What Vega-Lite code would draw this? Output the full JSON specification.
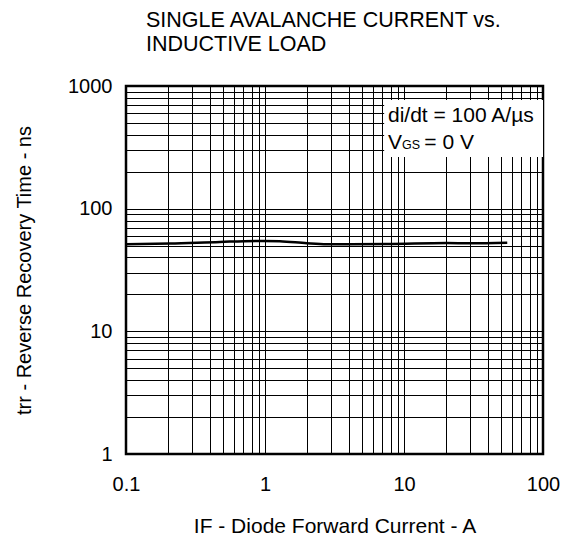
{
  "$schema": "https://vega.github.io/schema/vega-lite/v6.json",
  "width": 417,
  "height": 368,
  "autosize": "none",
  "padding": {"left": 126, "top": 86, "right": 28, "bottom": 84},
  "background": "white",
  "config": {
    "font": "Liberation Sans",
    "view": {"stroke": "black", "strokeWidth": 2.5}
  },
  "title": {
    "text": ["SINGLE AVALANCHE CURRENT vs.", "INDUCTIVE LOAD"],
    "anchor": "start",
    "frame": "group",
    "dx": 20,
    "fontSize": 21.5,
    "fontWeight": "normal",
    "font": "Liberation Sans",
    "lineHeight": 23.5,
    "offset": 21,
    "color": "black"
  },
  "datasets": {
    "curve": [
      {"current": 0.1, "trr": 51.3},
      {"current": 0.207, "trr": 51.9},
      {"current": 0.474, "trr": 53.6},
      {"current": 0.97, "trr": 54.6},
      {"current": 1.28, "trr": 54.3},
      {"current": 2.0, "trr": 52.2},
      {"current": 2.78, "trr": 51.3},
      {"current": 7.5, "trr": 51.5},
      {"current": 20.3, "trr": 52.5},
      {"current": 29.9, "trr": 52.2},
      {"current": 55.3, "trr": 52.8}
    ],
    "box": [{"x1": 7.2, "x2": 100, "y1": 264, "y2": 769}],
    "labels": [
      {"x": 7.67, "y": 510, "text": "di/dt = 100 A/µs", "size": 21},
      {"x": 7.67, "y": 305, "text": "V", "size": 21},
      {"x": 9.69, "y": 305, "text": "GS", "size": 12.5},
      {"x": 14.0, "y": 305, "text": "= 0 V", "size": 21}
    ]
  },
  "layer": [
    {
      "data": {"name": "curve"},
      "mark": {"type": "line", "color": "black", "strokeWidth": 2.5, "interpolate": "monotone", "clip": true},
      "encoding": {
        "x": {
          "field": "current",
          "type": "quantitative",
          "scale": {"type": "log", "domain": [0.1, 100], "nice": false},
          "axis": {
            "title": "IF - Diode Forward Current - A",
            "values": [0.1, 0.2, 0.3, 0.4, 0.5, 0.6, 0.7, 0.8, 0.9, 1, 2, 3, 4, 5, 6, 7, 8, 9, 10, 20, 30, 40, 50, 60, 70, 80, 90, 100],
            "labelExpr": "(datum.value == 0.1 || datum.value == 1 || datum.value == 10 || datum.value == 100) ? datum.label : ''",
            "format": "~g",
            "grid": true,
            "gridColor": "black",
            "gridOpacity": 1,
            "gridWidth": 1,
            "ticks": false,
            "tickSize": 0,
            "domain": false,
            "labelFontSize": 20,
            "labelColor": "black",
            "labelPadding": 20,
            "labelFlush": false,
            "labelOverlap": false,
            "titleFontSize": 21,
            "titleFontWeight": "normal",
            "titleColor": "black",
            "titlePadding": 21
          }
        },
        "y": {
          "field": "trr",
          "type": "quantitative",
          "scale": {"type": "log", "domain": [1, 1000], "nice": false},
          "axis": {
            "title": "trr - Reverse Recovery Time - ns",
            "values": [1, 2, 3, 4, 5, 6, 7, 8, 9, 10, 20, 30, 40, 50, 60, 70, 80, 90, 100, 200, 300, 400, 500, 600, 700, 800, 900, 1000],
            "labelExpr": "(datum.value == 1 || datum.value == 10 || datum.value == 100 || datum.value == 1000) ? datum.label : ''",
            "format": "~g",
            "grid": true,
            "gridColor": "black",
            "gridOpacity": 1,
            "gridWidth": 1,
            "ticks": false,
            "tickSize": 0,
            "domain": false,
            "labelFontSize": 20,
            "labelColor": "black",
            "labelPadding": 14,
            "labelFlush": false,
            "labelOverlap": false,
            "titleFontSize": 20,
            "titleFontWeight": "normal",
            "titleColor": "black",
            "titlePadding": 33
          }
        }
      }
    },
    {
      "data": {"name": "box"},
      "mark": {"type": "rect", "color": "white", "opacity": 1},
      "encoding": {
        "x": {"field": "x1", "type": "quantitative"},
        "x2": {"field": "x2"},
        "y": {"field": "y1", "type": "quantitative"},
        "y2": {"field": "y2"}
      }
    },
    {
      "data": {"name": "labels"},
      "mark": {"type": "text", "align": "left", "baseline": "alphabetic", "color": "black", "font": "Liberation Sans"},
      "encoding": {
        "x": {"field": "x", "type": "quantitative"},
        "y": {"field": "y", "type": "quantitative"},
        "text": {"field": "text"},
        "size": {"field": "size", "type": "quantitative", "scale": null}
      }
    }
  ]
}
